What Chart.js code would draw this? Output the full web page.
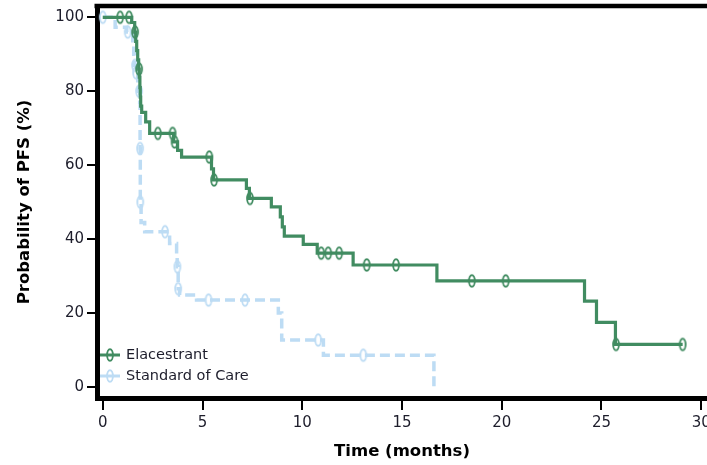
<!DOCTYPE html>
<html>
<head>
<meta charset="utf-8">
<script src="https://cdn.jsdelivr.net/npm/chart.js@4/dist/chart.umd.min.js"></script>
<style>
  html, body { margin: 0; padding: 0; background: #fff; }
  #wrap { width: 707px; height: 465px; }
</style>
</head>
<body>
<div id="wrap"><canvas id="c" width="707" height="465"></canvas></div>
<script>
// ---- data ----
const seriesNames = ['Elacestrant', 'Standard of Care'];
const xTicks = [0, 5, 10, 15, 20, 25, 30];
const yTicks = [0, 20, 40, 60, 80, 100];

const elaTime = [0, 1.45, 1.6, 1.65, 1.7, 1.75, 1.8, 1.83, 1.86, 1.88, 1.9, 1.95, 2.15, 2.35, 3.55, 3.75, 3.95, 5.45, 5.55, 7.2, 7.35, 8.45, 8.9, 9.0, 9.1, 10.05, 10.75, 12.55, 16.75, 24.15, 24.75, 25.7, 29.07];
const elaSurv = [100, 98.6, 96, 93.5, 91, 88.5, 86, 83.8, 81, 78.4, 76, 74.3, 71.7, 68.6, 66.3, 64, 62.2, 59, 56, 53.7, 51, 48.7, 46, 43.3, 40.8, 38.6, 36.2, 33, 28.7, 23.2, 17.5, 11.5, 11.5];
const elaCensorTime = [0.87, 1.32, 1.62, 1.82, 2.76, 3.5, 3.6, 5.34, 5.58, 7.38, 10.95, 11.3, 11.85, 13.23, 14.7, 18.5, 20.2, 25.73, 29.07];
const elaCensorSurv = [100, 100, 96, 86, 68.6, 68.6, 66.3, 62.2, 56, 51, 36.2, 36.2, 36.2, 33, 33, 28.7, 28.7, 11.5, 11.5];

const socTime = [0, 0.62, 1.2, 1.5, 1.55, 1.6, 1.65, 1.75, 1.8, 1.85, 1.87, 1.88, 1.92, 2.1, 3.35, 3.7, 3.73, 3.78, 3.85, 4.7, 8.8, 8.97, 11.06, 16.6];
const socSurv = [100, 97.3, 96, 93, 90, 87, 85, 82, 80, 77, 64.5, 50, 44.5, 42, 38.8, 35, 32.5, 26.6, 24.9, 23.5, 20, 12.7, 8.6, 0];
const socCensorTime = [0, 1.25, 1.62, 1.67, 1.82, 1.87, 1.88, 3.12, 3.74, 3.78, 5.3, 7.13, 10.8, 13.06];
const socCensorSurv = [100, 96, 87, 85, 80, 64.5, 50, 42, 32.5, 26.6, 23.5, 23.5, 12.7, 8.6];

// ---- styling ----
const GREEN = '#418c61';
const BLUE = '#bddcf4';

function pts(xs, ys) { return xs.map((x, i) => ({ x: x, y: ys[i] })); }

function censorMark(color) {
  const c = document.createElement('canvas');
  c.width = 10; c.height = 16;
  const g = c.getContext('2d');
  g.strokeStyle = color;
  g.lineWidth = 1.9;
  g.beginPath();
  g.ellipse(5, 8, 2.9, 5.8, 0, 0, Math.PI * 2);
  g.stroke();
  return c;
}
const greenMark = censorMark(GREEN);
const blueMark = censorMark(BLUE);

const frame = {
  id: 'frame',
  afterDraw(chart) {
    const { ctx, chartArea } = chart;
    ctx.save();
    ctx.strokeStyle = '#000';
    ctx.lineWidth = 4.5;
    ctx.beginPath();
    ctx.moveTo(chartArea.left - 2.5, chartArea.top);
    ctx.lineTo(chartArea.right, chartArea.top);
    ctx.stroke();
    ctx.restore();
  }
};

const legendIn = {
  id: 'legendIn',
  afterDraw(chart) {
    const { ctx } = chart;
    const items = [
      { name: seriesNames[0], color: GREEN, mark: greenMark, y: 355 },
      { name: seriesNames[1], color: BLUE, mark: blueMark, y: 376 }
    ];
    ctx.save();
    items.forEach(it => {
      ctx.strokeStyle = it.color;
      ctx.lineWidth = 3;
      ctx.beginPath();
      ctx.moveTo(100, it.y);
      ctx.lineTo(120, it.y);
      ctx.stroke();
      ctx.drawImage(it.mark, 110 - 5, it.y - 8);
      ctx.fillStyle = '#1d1d2b';
      ctx.font = '14.5px "DejaVu Sans"';
      ctx.textBaseline = 'middle';
      ctx.textAlign = 'left';
      ctx.fillText(it.name, 126, it.y);
    });
    ctx.restore();
  }
};

new Chart(document.getElementById('c'), {
  type: 'line',
  data: {
    datasets: [
      {
        label: seriesNames[1],
        data: pts(socTime, socSurv),
        borderColor: BLUE,
        borderWidth: 3.5,
        borderDash: [10, 5],
        stepped: true,
        pointRadius: 0,
        fill: false,
        order: 3
      },
      {
        label: seriesNames[1] + ' censored',
        data: pts(socCensorTime, socCensorSurv),
        showLine: false,
        pointStyle: blueMark,
        pointRadius: 6,
        order: 2
      },
      {
        label: seriesNames[0],
        data: pts(elaTime, elaSurv),
        borderColor: GREEN,
        borderWidth: 3.2,
        stepped: true,
        pointRadius: 0,
        fill: false,
        order: 1
      },
      {
        label: seriesNames[0] + ' censored',
        data: pts(elaCensorTime, elaCensorSurv),
        showLine: false,
        pointStyle: greenMark,
        pointRadius: 6,
        order: 0
      }
    ]
  },
  options: {
    responsive: false,
    animation: false,
    events: [],
    layout: { autoPadding: false, padding: { top: 6, right: 0, bottom: 0, left: 0 } },
    plugins: { legend: { display: false }, tooltip: { enabled: false } },
    scales: {
      x: {
        type: 'linear',
        min: -0.29,
        max: 30.29,
        afterBuildTicks: s => { s.ticks = xTicks.map(v => ({ value: v })); },
        afterFit: s => { s.height = 67; s.paddingLeft = 0; s.paddingRight = 0; },
        border: { display: true, color: '#000', width: 5 },
        grid: { drawOnChartArea: false, drawTicks: true, tickLength: 12, color: '#000', lineWidth: 2 },
        ticks: { autoSkip: false, maxRotation: 0, padding: 4, color: '#1d1d2b', font: { family: 'DejaVu Sans', size: 15 } },
        title: { display: true, text: 'Time (months)', color: '#000', font: { family: 'DejaVu Sans', size: 16.5, weight: 'bold' }, padding: { top: 0, bottom: 3 } }
      },
      y: {
        type: 'linear',
        min: -2.98,
        max: 103.06,
        afterBuildTicks: s => { s.ticks = yTicks.map(v => ({ value: v })); },
        afterFit: s => { s.width = 97; s.paddingTop = 0; s.paddingBottom = 0; },
        border: { display: true, color: '#000', width: 5 },
        grid: { drawOnChartArea: false, drawTicks: true, tickLength: 10, color: '#000', lineWidth: 2 },
        ticks: { autoSkip: false, padding: 3, color: '#1d1d2b', font: { family: 'DejaVu Sans', size: 15 } },
        title: { display: true, text: 'Probability of PFS (%)', color: '#000', font: { family: 'DejaVu Sans', size: 16.5, weight: 'bold' }, padding: { top: 15, bottom: 0 } }
      }
    }
  },
  plugins: [frame, legendIn]
});
</script>
</body>
</html>
